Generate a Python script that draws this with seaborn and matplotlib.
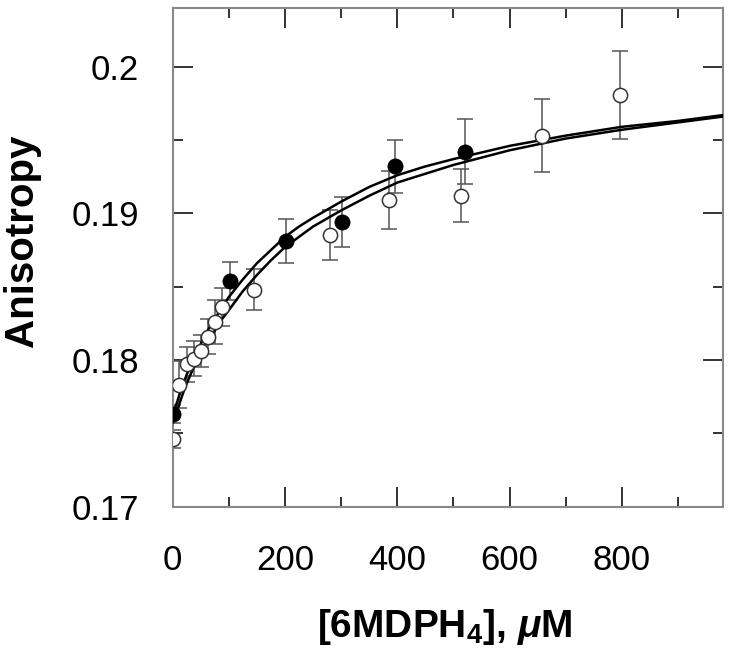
import numpy as np
import pandas as pd
import matplotlib
matplotlib.use("Agg")
import matplotlib.pyplot as plt
import seaborn as sns
from matplotlib.ticker import MultipleLocator, FuncFormatter

# open circles: anisotropy vs [6MDPH4] (uM)
open_x = [0, 12, 25, 38, 50, 62, 75, 88, 145, 280, 386, 514, 658, 797]
open_y = [0.1746, 0.1783, 0.1797, 0.1801, 0.1806, 0.1816, 0.1826, 0.1836,
          0.1848, 0.1885, 0.1909, 0.1912, 0.1953, 0.1981]
open_err = [0.0006, 0.0016, 0.0012, 0.0012, 0.0011, 0.0012, 0.0015, 0.0013,
            0.0014, 0.0017, 0.0020, 0.0018, 0.0025, 0.0030]

# filled circles
filled_x = [0, 102, 201, 301, 396, 520]
filled_y = [0.1763, 0.1854, 0.1881, 0.1894, 0.1932, 0.1942]
filled_err = [0.0006, 0.0013, 0.0015, 0.0017, 0.0018, 0.0022]

# fitted binding curves
curve_x = [0, 5, 10, 18, 25, 35, 50, 62, 75, 88, 100, 125, 150, 175, 200, 225, 250,
           300, 350, 400, 450, 500, 600, 700, 800, 900, 980]
fit_filled = [0.1762, 0.1768, 0.1774, 0.1783, 0.1790, 0.1799, 0.1811, 0.1820, 0.1828,
              0.1836, 0.1843, 0.1855, 0.1866, 0.1875, 0.1884, 0.1891, 0.1897,
              0.1908, 0.1918, 0.1926, 0.1932, 0.1937, 0.1946, 0.1953, 0.1959, 0.1963, 0.1967]
fit_open = [0.1757, 0.1763, 0.1768, 0.1777, 0.1784, 0.1793, 0.1804, 0.1813, 0.1820,
            0.1828, 0.1834, 0.1847, 0.1858, 0.1868, 0.1877, 0.1884, 0.1891,
            0.1902, 0.1912, 0.1921, 0.1927, 0.1933, 0.1943, 0.1951, 0.1957, 0.1962, 0.1966]

sns.set_style("ticks")
plt.rcParams["font.family"] = ["Liberation Sans", "DejaVu Sans"]
plt.rcParams["mathtext.fontset"] = "custom"
plt.rcParams["mathtext.rm"] = "Liberation Sans:bold"
plt.rcParams["mathtext.it"] = "Liberation Sans:bold:italic"
plt.rcParams["mathtext.bf"] = "Liberation Sans:bold"

open_df = pd.DataFrame({"conc": open_x, "aniso": open_y})
filled_df = pd.DataFrame({"conc": filled_x, "aniso": filled_y})
curves = pd.DataFrame({
    "conc": curve_x + curve_x,
    "aniso": fit_filled + fit_open,
    "fit": ["filled"] * len(curve_x) + ["open"] * len(curve_x),
})

fig = plt.figure(figsize=(7.5, 6.72), dpi=100)
ax = fig.add_axes([172.7 / 750, 1 - 506.7 / 672, (723 - 172.7) / 750, (506.7 - 8) / 672])

ax.errorbar(open_x, open_y, yerr=open_err, fmt="none", ecolor="#555555",
            elinewidth=1.1, capsize=5.5, capthick=1.1, zorder=2)
ax.errorbar(filled_x, filled_y, yerr=filled_err, fmt="none", ecolor="#555555",
            elinewidth=1.1, capsize=5.5, capthick=1.1, zorder=2)

sns.lineplot(data=curves, x="conc", y="aniso", units="fit", estimator=None,
             color="black", lw=1.8, sort=False, ax=ax, zorder=3)

sns.scatterplot(data=open_df, x="conc", y="aniso", marker="o", s=105,
                facecolor="white", edgecolor="#333333", linewidth=1.1, ax=ax, zorder=4)
sns.scatterplot(data=filled_df, x="conc", y="aniso", marker="o", s=120,
                color="black", edgecolor="black", linewidth=0.5, ax=ax, zorder=5)

ax.set_xlim(0, 980)
ax.set_ylim(0.17, 0.204)
ax.xaxis.set_major_locator(MultipleLocator(200))
ax.xaxis.set_minor_locator(MultipleLocator(100))
ax.yaxis.set_major_locator(MultipleLocator(0.01))
ax.yaxis.set_minor_locator(MultipleLocator(0.005))
ax.yaxis.set_major_formatter(FuncFormatter(lambda v, p: f"{v:g}"))

ax.tick_params(which="both", direction="in", top=True, right=True,
               color="#222222", width=1.3, labelsize=25, labelcolor="black")
ax.tick_params(which="major", length=14.4)
ax.tick_params(which="minor", length=7.2)
ax.tick_params(axis="x", pad=27)
ax.tick_params(axis="y", pad=24)

for sp in ax.spines.values():
    sp.set_color("#888888")
    sp.set_linewidth(1.5)

ax.set_ylabel("Anisotropy", fontsize=29, fontweight="bold", va="center", color="black")
ax.yaxis.set_label_coords(-0.273, 0.533)
ax.set_xlabel(r"[6MDPH$_4$], $\mu$M", fontsize=28, fontweight="bold", va="baseline",
              color="black")
ax.xaxis.set_label_coords(0.495, -0.261)

fig.savefig("out.png", dpi=100)
